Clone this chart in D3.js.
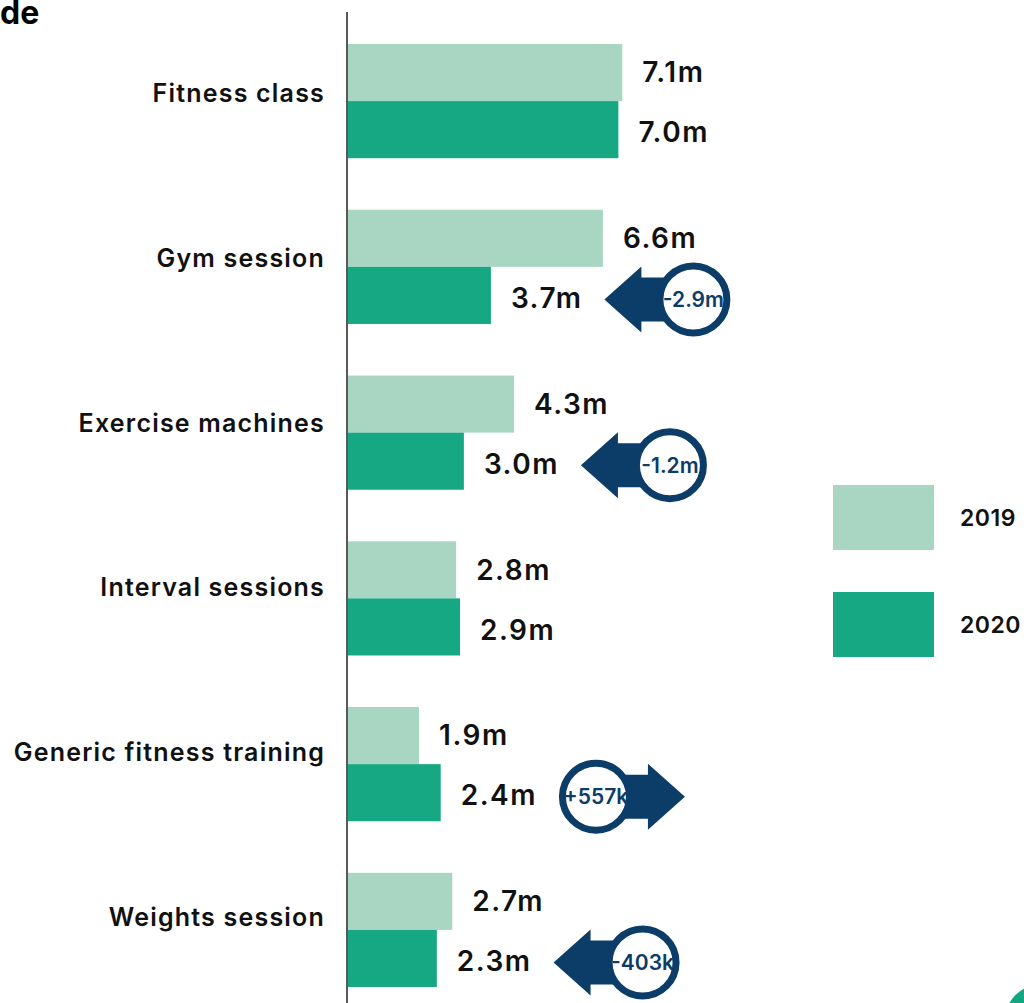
<!DOCTYPE html>
<html>
<head>
<meta charset="utf-8">
<script src="https://cdn.jsdelivr.net/npm/d3@7"></script>
<style>
  html, body { margin: 0; padding: 0; background: #fff; }
  svg { display: block; font-family: Inter, "Open Sans", sans-serif; }
</style>
</head>
<body>
<div id="chart"></div>
<script>
// data (millions of participants)
const categories = ["Fitness class", "Gym session", "Exercise machines", "Interval sessions", "Generic fitness training", "Weights session"];
const years = ["2019", "2020"];
const values2019 = [7.1, 6.6, 4.3, 2.8, 1.84, 2.7];
const values2020 = [7.0, 3.7, 3.0, 2.9, 2.4, 2.3];
const valueLabels2019 = ["7.1m", "6.6m", "4.3m", "2.8m", "1.9m", "2.7m"];
const valueLabels2020 = ["7.0m", "3.7m", "3.0m", "2.9m", "2.4m", "2.3m"];
// change call-outs
const changeCategories = ["Gym session", "Exercise machines", "Generic fitness training", "Weights session"];
const changeLabels = ["-2.9m", "-1.2m", "+557k", "-403k"];
const changeDirections = ["down", "down", "up", "down"];

(function() {
    const W = 1024, H = 1003;
    const colors = { "2019": "#a8d6c3", "2020": "#15a883" };
    const navy = "#0b3d68";

    const svg = d3.select("#chart").append("svg")
        .attr("width", W)
        .attr("height", H);

    const rows = categories.map((c, i) => ({
        category: c,
        "2019": values2019[i], "2020": values2020[i],
        label2019: valueLabels2019[i], label2020: valueLabels2020[i]
    }));

    const x = d3.scaleLinear().domain([0, 8]).range([348, 657]);
    const y0 = d3.scaleBand().domain(categories).range([44, 987]).paddingInner(0.311).paddingOuter(0);
    const y1 = d3.scaleBand().domain(years).range([0, y0.bandwidth()]);
    // category labels sit a little higher than the bar groups
    const yLabel = y0.copy().range([37, 975]);

    // cropped title fragment
    svg.append("text")
        .attr("x", 0).attr("y", 24)
        .style("font-size", "32px").style("font-weight", 700)
        .text("de");

    // bars
    const groups = svg.append("g").selectAll("g")
        .data(rows)
        .join("g")
        .attr("transform", d => "translate(0," + y0(d.category) + ")");

    groups.selectAll("rect")
        .data(d => years.map(k => ({ key: k, value: d[k] })))
        .join("rect")
        .attr("x", x(0))
        .attr("y", d => y1(d.key))
        .attr("width", d => x(d.value) - x(0))
        .attr("height", y1.bandwidth())
        .attr("fill", d => colors[d.key]);

    const valueText = groups.selectAll("text.val")
        .data(d => years.map(k => ({ key: k, value: d[k], label: d["label" + k], category: d.category })))
        .join("text")
        .attr("class", "val")
        .attr("x", d => x(d.value) + 20)
        .attr("y", d => y1(d.key) + y1.bandwidth() / 2 + (d.key === "2020" ? 3 : 0))
        .attr("dy", "0.35em")
        .style("font-size", "28px").style("font-weight", 600)
        .style("letter-spacing", "1.5px")
        .style("fill", "#111")
        .text(d => d.label);

    // category axis
    const axis = svg.append("g")
        .attr("transform", "translate(347,0)")
        .call(d3.axisLeft(yLabel).tickSize(0).tickPadding(22));
    axis.select(".domain").remove();
    axis.selectAll("text")
        .style("font-family", "Inter, sans-serif")
        .style("font-size", "25px").style("font-weight", 600)
        .style("letter-spacing", "1.2px")
        .style("fill", "#111");

    svg.append("line")
        .attr("x1", 347).attr("x2", 347)
        .attr("y1", 12).attr("y2", H)
        .attr("stroke", "#222").attr("stroke-width", 1.5);

    // change arrows, placed after the 2020 value label
    const ends = {};
    valueText.filter(d => d.key === "2020").each(function(d) {
        ends[d.category] = +d3.select(this).attr("x") + this.getComputedTextLength();
    });

    const arrows = svg.append("g").selectAll("g")
        .data(changeCategories.map((c, i) => ({ category: c, label: changeLabels[i], dir: changeDirections[i] })))
        .join("g")
        .attr("transform", d => "translate(" + (ends[d.category] + 22) + "," +
            (y0(d.category) + y1("2020") + y1.bandwidth() / 2 + 4) + ")");

    // left-pointing: tip at 0, circle at 89; right-pointing: circle at 37, tip at 126
    arrows.append("path")
        .attr("fill", navy)
        .attr("d", d => d.dir === "down"
            ? "M0,0L37,-33L37,-22L89,-22L89,22L37,22L37,33Z"
            : "M37,-22L89,-22L89,-33L126,0L89,33L89,22L37,22Z");

    arrows.append("circle")
        .attr("cx", d => d.dir === "down" ? 89 : 37)
        .attr("cy", 0)
        .attr("r", 33.5)
        .attr("fill", "#fff")
        .attr("stroke", navy)
        .attr("stroke-width", 7);

    arrows.append("text")
        .attr("x", d => d.dir === "down" ? 89 : 37)
        .attr("y", 0)
        .attr("dy", "0.35em")
        .attr("text-anchor", "middle")
        .style("font-size", "21px").style("font-weight", 600)
        .style("fill", navy)
        .text(d => d.label);

    // legend
    const legend = svg.append("g").selectAll("g")
        .data(years)
        .join("g")
        .attr("transform", (d, i) => "translate(833," + (485 + i * 107) + ")");
    legend.append("rect")
        .attr("width", 101).attr("height", 65)
        .attr("fill", d => colors[d]);
    legend.append("text")
        .attr("x", 127).attr("y", 33)
        .attr("dy", "0.35em")
        .style("font-size", "23px").style("font-weight", 600)
        .style("letter-spacing", "0.5px")
        .style("fill", "#111")
        .text(d => d);

    // corner logo fragment
    svg.append("circle")
        .attr("cx", 1040).attr("cy", 1020).attr("r", 35)
        .attr("fill", "#13a683");
})();
</script>
</body>
</html>
